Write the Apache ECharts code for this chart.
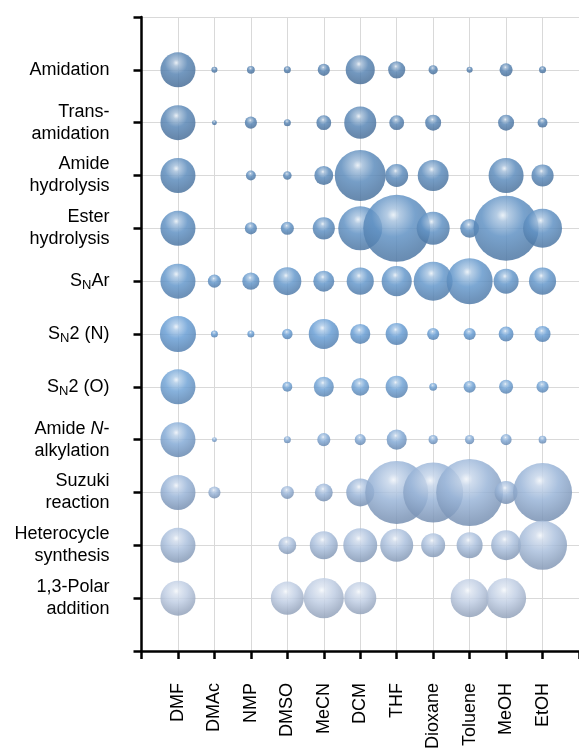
<!DOCTYPE html>
<html>
<head>
<meta charset="utf-8">
<script src="https://cdn.jsdelivr.net/npm/echarts@6/dist/echarts.min.js"></script>
<style>
html,body{margin:0;padding:0;background:#fff;}
#chart{width:579px;height:752px;}
</style>
</head>
<body>
<div id="chart"></div>
<script>
// Categories
const solvents = ['DMF','DMAc','NMP','DMSO','MeCN','DCM','THF','Dioxane','Toluene','MeOH','EtOH'];
const reactions = ['Amidation','Trans-amidation','Amide hydrolysis','Ester hydrolysis','SNAr','SN2 (N)','SN2 (O)','Amide N-alkylation','Suzuki reaction','Heterocycle synthesis','1,3-Polar addition'];
// Tick labels (rich text markup)
const reactionTickLabels = [
  '{n|Amidation}',
  '{n|Trans-}\n{n|amidation}',
  '{n|Amide}\n{n|hydrolysis}',
  '{n|Ester}\n{n|hydrolysis}',
  '{n|S}{s|N}{n|Ar}',
  '{n|S}{s|N}{n|2 (N)}',
  '{n|S}{s|N}{n|2 (O)}',
  '{n|Amide }{i|N}{n|-}\n{n|alkylation}',
  '{n|Suzuki}\n{n|reaction}',
  '{n|Heterocycle}\n{n|synthesis}',
  '{n|1,3-Polar}\n{n|addition}'
];
// Relative usage values per reaction, one per solvent (null = not used)
const amidation        = [100, 3, 5, 4, 12, 69, 24, 7, 3, 14, 4];
const transAmidation   = [100, 2, 12, 4, 18, 84, 18, 21, null, 21, 8];
const amideHydrolysis  = [100, null, 8, 6, 29, 212, 43, 78, null, 100, 40];
const esterHydrolysis  = [100, null, 12, 14, 40, 158, 366, 89, 29, 345, 124];
const snAr             = [100, 14, 24, 64, 36, 60, 74, 124, 173, 51, 60];
const sn2N             = [106, 4, 4, 9, 74, 33, 40, 12, 12, 18, 21];
const sn2O             = [100, null, null, 8, 33, 26, 40, 5, 12, 16, 12];
const amideNAlkylation = [100, 2, null, 4, 14, 10, 33, 7, 7, 10, 5];
const suzuki           = [100, 12, null, 14, 26, 64, 324, 294, 366, 43, 284];
const heterocycle      = [100, null, null, 26, 64, 94, 89, 47, 55, 73, 196];
const polarAddition    = [100, null, null, 89, 131, 84, null, null, 118, 131, null];
const rows = [amidation, transAmidation, amideHydrolysis, esterHydrolysis, snAr, sn2N, sn2O, amideNAlkylation, suzuki, heterocycle, polarAddition];

// Styles
const palette = ['#5a86b4','#5b88b7','#5e8dbd','#6192c4','#6699cc','#6a9fd5','#72a4d6','#85abd6','#9ab5d8','#abc0dd','#bfcde3'];
const FONT = '"Liberation Sans", Arial, sans-serif';

function hex2rgb(h){h=h.replace('#','');return [0,2,4].map(i=>parseInt(h.substr(i,2),16));}
function mix(c, t, a){const x=hex2rgb(c);return 'rgb('+x.map((v,i)=>Math.round(v+(t[i]-v)*a)).join(',')+')';}
function sphere(base){
  return {
    type:'radial', x:0.45, y:0.3, r:0.78,
    colorStops:[
      {offset:0, color: mix(base,[255,255,255],0.85)},
      {offset:0.12, color: mix(base,[255,255,255],0.45)},
      {offset:0.42, color: base},
      {offset:0.78, color: mix(base,[30,50,80],0.22)},
      {offset:0.9, color: mix(base,[30,50,80],0.28)},
      {offset:1, color: mix(base,[255,255,255],0.3)}
    ]
  };
}

const n = reactions.length;
const series = reactions.map((name, i) => ({
  type: 'scatter',
  name: name,
  data: rows[i].map((v, j) => v == null ? null : [j + 1, n - i, v]).filter(Boolean),
  symbolSize: d => 3.5 * Math.sqrt(d[2]),
  itemStyle: { color: sphere(palette[i]), opacity: 0.85 },
  emphasis: { disabled: true },
  z: 3
}));

const chart = echarts.init(document.getElementById('chart'), null, {renderer:'canvas'});
chart.setOption({
  animation: false,
  backgroundColor: '#fff',
  grid: { left: 141.5, right: -7.7, top: 17, bottom: 99, containLabel: false },
  xAxis: {
    type: 'value', min: 0, max: 12, interval: 1,
    axisLine: { show: true, onZero: false, lineStyle: { color: '#000', width: 2.5 } },
    axisTick: { show: true, length: 8, lineStyle: { color: '#000', width: 2.5 } },
    splitLine: { show: true, lineStyle: { color: '#d9d9d9', width: 1 } },
    axisLabel: {
      rotate: 90, margin: 32, fontSize: 18, fontFamily: FONT, color: '#000',
      formatter: v => (v >= 1 && v <= solvents.length) ? solvents[v - 1] : ''
    }
  },
  yAxis: {
    type: 'value', min: 0, max: 12, interval: 1,
    axisLine: { show: true, onZero: false, lineStyle: { color: '#000', width: 2.5 } },
    axisTick: { show: true, length: 8, lineStyle: { color: '#000', width: 2.5 } },
    splitLine: { show: true, lineStyle: { color: '#d9d9d9', width: 1 } },
    axisLabel: {
      margin: 32, color: '#000', fontFamily: FONT, fontSize: 18, lineHeight: 22,
      formatter: v => (v >= 1 && v <= n) ? reactionTickLabels[n - v] : '',
      rich: {
        n: { fontSize: 18, fontFamily: FONT, color: '#000', lineHeight: 22 },
        i: { fontSize: 18, fontFamily: FONT, color: '#000', lineHeight: 22, fontStyle: 'italic' },
        s: { fontSize: 13, fontFamily: FONT, color: '#000', lineHeight: 13, verticalAlign: 'bottom' }
      }
    }
  },
  series: series
});
</script>
</body>
</html>
